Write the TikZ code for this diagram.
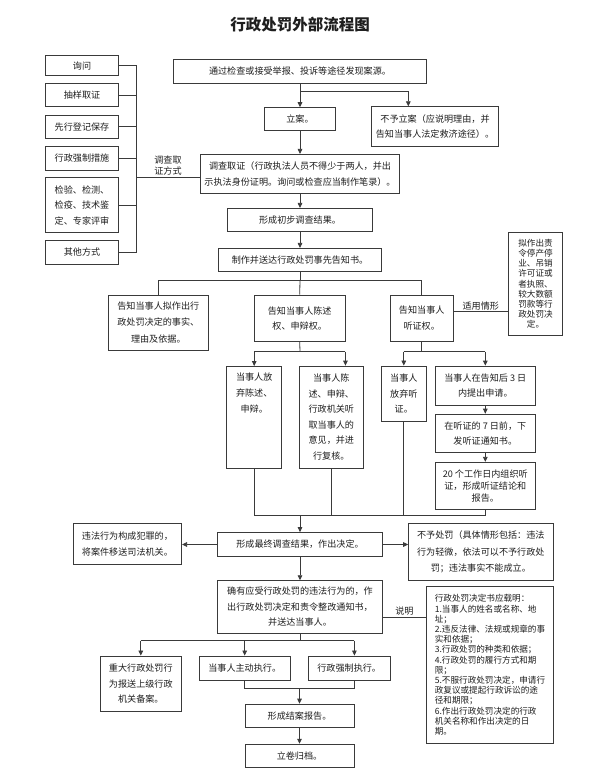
\documentclass[tikz,border=0pt]{standalone}
\usepackage{fontspec}
\setmainfont{Noto Sans CJK SC}
\usepackage{xcolor}
\usepackage{tikz}
\usetikzlibrary{positioning,arrows.meta}
\definecolor{ink}{HTML}{1e1e1e}
\definecolor{edge}{HTML}{3a3a3a}

\begin{document}
\begin{tikzpicture}[x=1pt,y=-1pt,
  font=\fontsize{9.1}{15.5}\selectfont,
  box/.style={draw=edge,line width=0.8pt,align=center,inner sep=2pt,text=ink,fill=white},
  side/.style={box,minimum width=72.6pt,minimum height=23.3pt},
  arr/.style={-{Triangle[length=5pt,width=4.6pt]},line width=0.8pt,draw=edge},
  ln/.style={line width=0.8pt,draw=edge},
  lbl/.style={text=ink,align=center,inner sep=1.5pt}]
  \useasboundingbox[fill=white] (0,0) rectangle (600,778);
  \node[font=\fontsize{15.5}{18}\selectfont\bfseries,text=ink] (title) at (300,25) {行政处罚外部流程图};

  \node[side,minimum height=20pt] (xunwen) at (82,65.8) {询问};
  \node[side] (chouyang) at (82,95) {抽样取证};
  \node[side] (xianxing) at (82,126.7) {先行登记保存};
  \node[side] (cuoshi) at (82,158.3) {行政强制措施};
  \node[side,minimum height=55pt] (jianyan) at (82,205.2) {检验、检测、\\检疫、技术鉴\\定、专家评审};
  \node[side] (qita) at (82,252.3) {其他方式};

  \node[box,minimum width=253.4pt,minimum height=24pt] (source) at (300,71.3) {通过检查或接受举报、投诉等途径发现案源。};
  \node[box,minimum width=71.7pt,minimum height=22.3pt] (lian) at (300,118.8) {立案。};
  \node[box,minimum width=126.6pt,minimum height=40pt] (buyu) at (435,126.7) {不予立案（应说明理由，并\\告知当事人法定救济途径）。};
  \node[box,minimum width=199.3pt,minimum height=39pt] (diaocha) at (300,173.8) {调查取证（行政执法人员不得少于两人，并出\\示执法身份证明。询问或检查应当制作笔录）。};
  \node[box,minimum width=144.4pt,minimum height=23.4pt] (chubu) at (300,220) {形成初步调查结果。};
  \node[box,minimum width=163.4pt,minimum height=23.4pt] (gaozhishu) at (300,260) {制作并送达行政处罚事先告知书。};

  \node[box,minimum width=100pt,minimum height=55pt,font=\fontsize{9.1}{16.5}\selectfont] (shishi) at (158.3,322.5) {告知当事人拟作出行\\政处罚决定的事实、\\理由及依据。};
  \node[box,minimum width=90.7pt,minimum height=46.7pt] (chenshu) at (299.7,318.3) {告知当事人陈述\\权、申辩权。};
  \node[box,minimum width=63.3pt,minimum height=46.7pt] (tingzheng) at (421.7,318.3) {告知当事人\\听证权。};
  \node[box,minimum width=54.4pt,minimum height=102.3pt,font=\fontsize{8.6}{10.2}\selectfont] (qingxing) at (535.5,283.8) {拟作出责\\令停产停\\业、吊销\\许可证或\\者执照、\\较大数额\\罚款等行\\政处罚决\\定。};

  \node[box,anchor=north,minimum width=55pt,minimum height=102.3pt,text depth=50pt,inner ysep=6pt,font=\fontsize{9.1}{16}\selectfont] (fangqi) at (254.2,366) {当事人放\\弃陈述、\\申辩。};
  \node[box,minimum width=64pt,minimum height=102.3pt] (fuhe) at (331.3,417.2) {当事人陈\\述、申辩、\\行政机关听\\取当事人的\\意见，并进\\行复核。};
  \node[box,minimum width=45.7pt,minimum height=55.7pt] (fangqiting) at (403.8,393.8) {当事人\\放弃听\\证。};
  \node[box,minimum width=100pt,minimum height=39pt] (shenqing) at (485.3,385.5) {当事人在告知后 3 日\\内提出申请。};
  \node[box,minimum width=100pt,minimum height=38.4pt,below=8.3pt of shenqing] (tongzhi) {在听证的 7 日前，下\\发听证通知书。};
  \node[box,minimum width=100pt,minimum height=46.6pt,below=9pt of tongzhi,font=\fontsize{9.1}{12}\selectfont] (zuzhi) {20 个工作日内组织听\\证，形成听证结论和\\报告。};

  \node[box,minimum width=164.3pt,minimum height=24pt] (jieguo) at (300,544.5) {形成最终调查结果，作出决定。};
  \node[box,minimum width=108.5pt,minimum height=40.6pt] (yisong) at (127.4,544) {违法行为构成犯罪的，\\将案件移送司法机关。};
  \node[box,minimum width=144.5pt,minimum height=56.8pt,font=\fontsize{9.1}{16.5}\selectfont] (buchufa) at (480.8,552.2) {不予处罚（具体情形包括：违法\\行为轻微，依法可以不予行政处\\罚；违法事实不能成立。};
  \node[box,minimum width=164.3pt,minimum height=52.7pt] (queyou) at (300,607) {确有应受行政处罚的违法行为的，作\\出行政处罚决定和责令整改通知书，\\并送达当事人。};
  \node[box,minimum width=126.6pt,minimum height=156.3pt,align=left,font=\fontsize{8.6}{10.2}\selectfont] (zaiming) at (490,665) {行政处罚决定书应载明：\\1.当事人的姓名或名称、地\\址；\\2.违反法律、法规或规章的事\\实和依据；\\3.行政处罚的种类和依据；\\4.行政处罚的履行方式和期\\限；\\5.不服行政处罚决定，申请行\\政复议或提起行政诉讼的途\\径和期限；\\6.作出行政处罚决定的行政\\机关名称和作出决定的日\\期。};

  \node[box,minimum width=81.7pt,minimum height=55.7pt] (beian) at (140.8,683.8) {重大行政处罚行\\为报送上级行政\\机关备案。};
  \node[box,minimum width=90.7pt,minimum height=24.7pt] (zhudong) at (244.7,668.3) {当事人主动执行。};
  \node[box,minimum width=81.7pt,minimum height=24.7pt] (qiangzhi) at (349.2,668.3) {行政强制执行。};
  \node[box,minimum width=109pt,minimum height=23.3pt] (jiean) at (299.5,715.7) {形成结案报告。};
  \node[box,minimum width=109pt,minimum height=23.4pt,below=16pt of jiean] (guidang) {立卷归档。};

  \coordinate (fangshi) at (136,177);
  \coordinate (faxian) at (300,91.7);
  \coordinate (fenzhi) at (300,280);
  \coordinate (shenbian) at (300,351.7);
  \coordinate (tingfen) at (421.7,351.7);
  \coordinate (huizong) at (300,515);
  \coordinate (zhixing) at (300,640.7);
  \coordinate (huiji) at (299.5,688.3);

  \draw[ln] (xunwen.east) -- (xunwen.east -| fangshi) -- (qita.east -| fangshi) -- (qita.east);
  \foreach \n in {chouyang,xianxing,cuoshi,jianyan}
    \draw[ln] (\n.east) -- (\n.east -| fangshi);
  \draw[ln] (fangshi) -- node[above,lbl,font=\fontsize{9.1}{10.5}\selectfont]{调查取\\证方式} (fangshi -| diaocha.west);

  \draw[arr] (source) -- (lian);
  \draw[arr] (faxian) -| ([xshift=-26.7pt]buyu.north);
  \draw[arr] (lian) -- (diaocha);
  \draw[arr] (diaocha) -- (chubu);
  \draw[arr] (chubu) -- (gaozhishu);

  \draw[ln] (gaozhishu.south) -- (fenzhi);
  \draw[ln] (shishi.north) |- (tingzheng.north |- fenzhi) -- (tingzheng.north);
  \draw[ln] (fenzhi) -- (chenshu.north);
  \draw[ln] ([yshift=6.6pt]tingzheng.east) -- node[above,lbl]{适用情形} ([yshift=6.6pt]tingzheng.east -| qingxing.west);

  \draw[ln] (chenshu.south) -- (shenbian);
  \draw[ln] (fangqi.north |- shenbian) -- (chenshu.south east |- shenbian);
  \draw[arr] (fangqi.north |- shenbian) -- (fangqi.north);
  \draw[arr] (chenshu.south east |- shenbian) -- (chenshu.south east |- fuhe.north);
  \draw[ln] (tingzheng.south) -- (tingfen);
  \draw[ln] (fangqiting.north |- tingfen) -- (shenqing.north |- tingfen);
  \draw[arr] (fangqiting.north |- tingfen) -- (fangqiting.north);
  \draw[arr] (shenqing.north |- tingfen) -- (shenqing.north);
  \draw[arr] (shenqing) -- (tongzhi);
  \draw[arr] (tongzhi) -- (zuzhi);

  \draw[ln] (fangqi.south) |- (zuzhi.south |- huizong) -- (zuzhi.south);
  \draw[ln] (fuhe.south) -- (fuhe.south |- huizong);
  \draw[ln] (fangqiting.south) -- (fangqiting.south |- huizong);
  \draw[arr] (huizong) -- (jieguo.north);

  \draw[arr] (jieguo.west) -- (yisong.east |- jieguo.west);
  \draw[arr] (jieguo.east) -- (buchufa.west |- jieguo.east);
  \draw[arr] (jieguo) -- (queyou);
  \draw[ln] ([yshift=-10pt]queyou.east) -- node[above,lbl]{说明} ([yshift=-10pt]queyou.east -| zaiming.west);

  \draw[ln] (queyou.south) -- (zhixing);
  \draw[ln] (beian.north |- zhixing) -- (jiean.east |- zhixing);
  \draw[arr] (beian.north |- zhixing) -- (beian.north);
  \draw[arr] (zhudong.north |- zhixing) -- (zhudong.north);
  \draw[arr] (jiean.east |- zhixing) -- (jiean.east |- qiangzhi.north);
  \draw[ln] (jiean.west |- zhudong.south) -- (jiean.west |- huiji) -- (jiean.east |- huiji) -- (jiean.east |- qiangzhi.south);
  \draw[arr] (huiji) -- (jiean);
  \draw[arr] (jiean) -- (guidang);
\end{tikzpicture}
\end{document}
